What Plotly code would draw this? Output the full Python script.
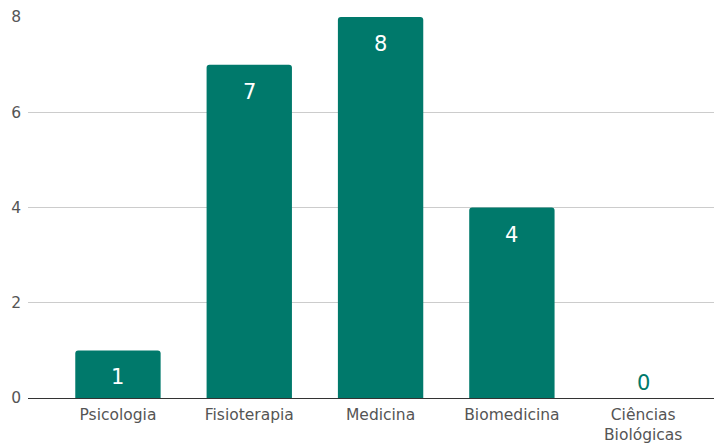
import plotly.graph_objects as go

categories = ["Psicologia", "Fisioterapia", "Medicina", "Biomedicina", "Ciências<br>Biológicas"]
values = [1, 7, 8, 4, 0]
y_ticks = [0, 2, 4, 6, 8]

BAR = "#00796b"
TXT = "#555555"

fig = go.Figure()
fig.add_trace(go.Bar(
    x=list(range(len(categories))),
    y=values,
    marker=dict(color=BAR, line=dict(width=0)),
    hoverinfo="skip",
))

for i, v in enumerate(values):
    inside = v > 0
    fig.add_annotation(
        x=i, y=v, text=str(v), showarrow=False,
        yshift=-27 if inside else 15,
        font=dict(family="DejaVu Sans", size=21, color="white" if inside else BAR),
    )

fig.update_layout(
    width=714, height=437,
    margin=dict(l=20, r=0, t=9, b=47, autoexpand=False),
    paper_bgcolor="white", plot_bgcolor="white",
    bargap=0.35,
    barcornerradius=3,
    showlegend=False,
    font=dict(family="DejaVu Sans", size=15.5, color=TXT),
    xaxis=dict(
        range=[-0.685, 4.60],
        tickmode="array",
        tickvals=list(range(len(categories))),
        ticktext=categories,
        showgrid=False, zeroline=False,
        showline=True, linecolor="#333333", linewidth=1,
        ticks="", tickfont=dict(size=15.5, color=TXT),
        ticklabelstandoff=2,
        automargin=False,
    ),
    yaxis=dict(
        range=[0, 8],
        tickvals=y_ticks,
        showgrid=True, gridcolor="#cccccc", gridwidth=1,
        zeroline=False, showline=False,
        ticks="", ticklabelstandoff=6,
        tickfont=dict(size=15.5, color=TXT),
        automargin=False,
    ),
)

fig.write_html("out.html")
